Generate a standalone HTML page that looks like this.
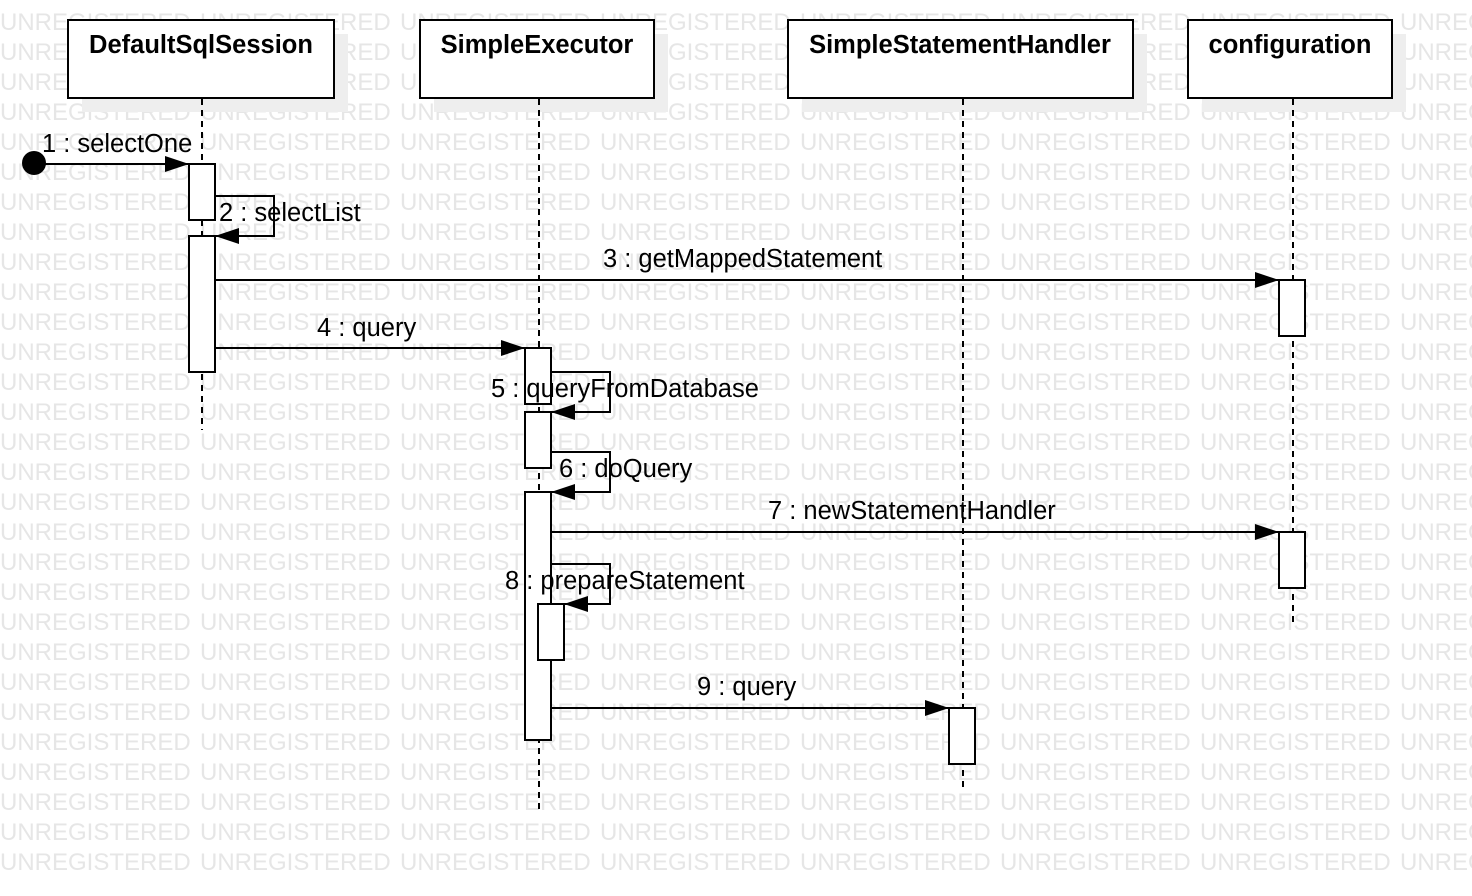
<!DOCTYPE html>
<html><head><meta charset="utf-8"><style>body{margin:0;background:#fff}svg{display:block}</style></head>
<body>
<svg width="1472" height="896" xmlns="http://www.w3.org/2000/svg" font-family="Liberation Sans, sans-serif">
<defs>
<pattern id="wm" patternUnits="userSpaceOnUse" x="0" y="7" width="200" height="30">
<text x="0" y="23" font-size="24" fill="#e6e6e6">UNREGISTERED</text>
</pattern>
<marker id="a" markerWidth="24" markerHeight="16" refX="24" refY="8" orient="auto" markerUnits="userSpaceOnUse"><path d="M0,0 L24,8 L0,16 Z" fill="#000"/></marker>
</defs>
<rect width="1472" height="896" fill="#fff"/>
<rect width="1472" height="870" fill="url(#wm)"/>
<g fill="#eeeeee">
<rect x="82" y="34" width="266" height="78"/><rect x="434" y="34" width="234" height="78"/>
<rect x="802" y="34" width="345" height="78"/><rect x="1202" y="34" width="204" height="78"/>
</g>
<g fill="#fff" stroke="#000" stroke-width="2">
<rect x="68" y="20" width="266" height="78"/><rect x="420" y="20" width="234" height="78"/>
<rect x="788" y="20" width="345" height="78"/><rect x="1188" y="20" width="204" height="78"/>
</g>
<g font-weight="bold" font-size="25.5" text-anchor="middle">
<text x="201" y="53">DefaultSqlSession</text><text x="537" y="53">SimpleExecutor</text>
<text x="960" y="53">SimpleStatementHandler</text><text x="1290" y="53">configuration</text>
</g>
<g stroke="#000" stroke-width="2" stroke-dasharray="6,5">
<line x1="202" y1="99" x2="202" y2="430"/><line x1="539" y1="99" x2="539" y2="812"/>
<line x1="963" y1="99" x2="963" y2="790"/><line x1="1293" y1="99" x2="1293" y2="622"/>
</g>
<g fill="#fff" stroke="#000" stroke-width="2">
<rect x="189" y="164" width="26" height="56"/><rect x="189" y="236" width="26" height="136"/>
<rect x="1279" y="280" width="26" height="56"/><rect x="1279" y="532" width="26" height="56"/>
<rect x="525" y="348" width="26" height="56"/><rect x="525" y="412" width="26" height="56"/>
<rect x="525" y="492" width="26" height="248"/><rect x="538" y="604" width="26" height="56"/>
<rect x="949" y="708" width="26" height="56"/>
</g>
<circle cx="34" cy="163" r="12" fill="#000"/>
<g stroke="#000" stroke-width="2" fill="none">
<line x1="34" y1="164" x2="189" y2="164" marker-end="url(#a)"/>
<polyline points="215,196 274,196 274,236 215,236" marker-end="url(#a)"/>
<line x1="215" y1="280" x2="1279" y2="280" marker-end="url(#a)"/>
<line x1="215" y1="348" x2="525" y2="348" marker-end="url(#a)"/>
<polyline points="551,372 610,372 610,412 551,412" marker-end="url(#a)"/>
<polyline points="551,452 610,452 610,492 551,492" marker-end="url(#a)"/>
<line x1="551" y1="532" x2="1279" y2="532" marker-end="url(#a)"/>
<polyline points="551,564 610,564 610,604 564,604" marker-end="url(#a)"/>
<line x1="551" y1="708" x2="949" y2="708" marker-end="url(#a)"/>
</g>
<g font-size="25.5" fill="#000">
<text x="42" y="152">1 : selectOne</text>
<text x="219" y="221">2 : selectList</text>
<text x="603" y="267">3 : getMappedStatement</text>
<text x="317" y="336">4 : query</text>
<text x="491" y="397">5 : queryFromDatabase</text>
<text x="559" y="477">6 : doQuery</text>
<text x="768" y="519">7 : newStatementHandler</text>
<text x="505" y="589">8 : prepareStatement</text>
<text x="697" y="695">9 : query</text>
</g>
</svg>
</body></html>
